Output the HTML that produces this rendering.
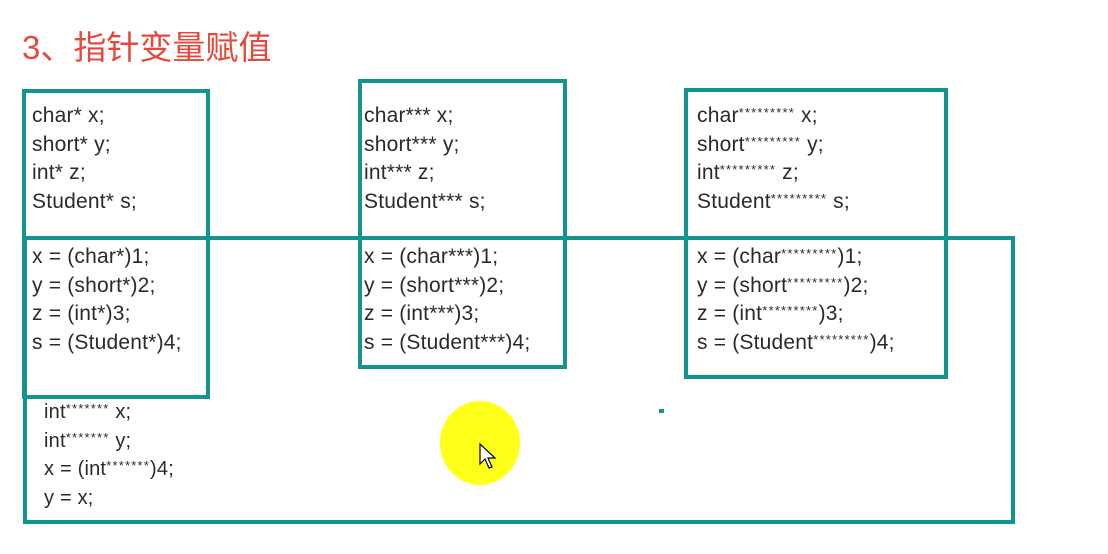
<!DOCTYPE html>
<html><head><meta charset="utf-8"><style>
body{margin:0;width:1108px;height:554px;background:#fff;position:relative;overflow:hidden;font-family:"Liberation Sans","Noto Sans CJK SC",sans-serif;}
.b{position:absolute;border:4px solid #12958f;box-sizing:border-box;}
.t{position:absolute;color:#2a2a2a;font-size:21px;line-height:28.5px;letter-spacing:0.2px;white-space:pre;}
.s{font-size:13px;position:relative;top:-5px;line-height:0;letter-spacing:1.2px;}
.t2{font-size:20px;line-height:28.5px;}
</style></head><body>
<div style="position:absolute;left:22px;top:26px;color:#e8473c;font-size:33px;line-height:44px;">3、指针变量赋值</div>
<div class="b" style="left:23px;top:236px;width:992px;height:288px;"></div>
<div class="b" style="left:22px;top:89px;width:188px;height:310px;"></div>
<div class="b" style="left:358px;top:79px;width:209px;height:290px;"></div>
<div class="b" style="left:684px;top:88px;width:264px;height:291px;"></div>
<div class="t" style="left:32px;top:102px;">char* x;
short* y;
int* z;
Student* s;</div>
<div class="t" style="left:32px;top:243px;">x = (char*)1;
y = (short*)2;
z = (int*)3;
s = (Student*)4;</div>
<div class="t" style="left:364px;top:102px;">char*** x;
short*** y;
int*** z;
Student*** s;</div>
<div class="t" style="left:364px;top:243px;">x = (char***)1;
y = (short***)2;
z = (int***)3;
s = (Student***)4;</div>
<div class="t" style="left:697px;top:102px;">char<span class="s">*********</span> x;
short<span class="s">*********</span> y;
int<span class="s">*********</span> z;
Student<span class="s">*********</span> s;</div>
<div class="t" style="left:697px;top:243px;">x = (char<span class="s">*********</span>)1;
y = (short<span class="s">*********</span>)2;
z = (int<span class="s">*********</span>)3;
s = (Student<span class="s">*********</span>)4;</div>
<div class="t t2" style="left:44px;top:398px;">int<span class="s">*******</span> x;
int<span class="s">*******</span> y;
x = (int<span class="s">*******</span>)4;
y = x;</div>
<div style="position:absolute;left:440px;top:401px;width:80px;height:84px;border-radius:50%;background:#ffff1a;"></div>
<svg style="position:absolute;left:478px;top:442px" width="20" height="30"><path d="M2 2 L2 22 L7 17 L11 26 L14 25 L10 16 L17 16 Z" fill="#fff" stroke="#000" stroke-width="1.2"/></svg>
<div style="position:absolute;left:659px;top:409px;width:5px;height:4px;background:#12958f;"></div>
</body></html>
